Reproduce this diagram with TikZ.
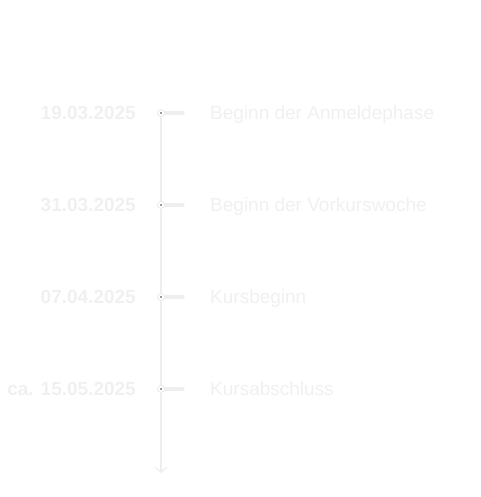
\documentclass[tikz,border=0pt]{standalone}
\usepackage{fontspec}
\setmainfont{Liberation Sans}
\usetikzlibrary{arrows.meta}
\definecolor{faint}{HTML}{F0F0F0}
\definecolor{faintline}{HTML}{EEEEEE}
\begin{document}
\begin{tikzpicture}[x=1pt,y=1pt,
  datelbl/.style={anchor=base east,inner sep=0pt,text=faint,font=\fontsize{19}{22}\selectfont\bfseries},
  eventlbl/.style={anchor=base west,inner sep=0pt,text=faint,font=\fontsize{19}{22}\selectfont},
  axisline/.style={draw=faintline,line width=2pt,-{Straight Barb[length=5pt,width=12pt,line width=1.2pt]}},
  tickline/.style={draw=faintline,line width=3.2pt,line cap=round},
  marker/.style={circle,draw=faintline,fill=white,line width=1pt,minimum size=7pt,inner sep=0pt},
  centerdot/.style={circle,fill=black!80,minimum size=1.6pt,inner sep=0pt}]
\useasboundingbox (0,0) rectangle (480,497);
\coordinate (top) at (161,384);
\coordinate (bottom) at (161,24);
\draw[axisline] (top) -- (bottom);
\foreach \i/\y/\d/\e in {1/384/19.03.2025/Beginn der Anmeldephase,
                          2/292/31.03.2025/Beginn der Vorkurswoche,
                          3/200/07.04.2025/Kursbeginn,
                          4/108/ca. 15.05.2025/Kursabschluss}{
  \coordinate (p\i) at (161,\y);
  \coordinate (t\i) at (183,\y);
  \draw[tickline] (p\i) -- (t\i);
  \node[marker] (m\i) at (p\i) {};
  \node[centerdot] (c\i) at (p\i) {};
  \node[datelbl] (d\i) at (136,\y-6.8) {\d};
  \node[eventlbl] (e\i) at (210,\y-6.8) {\e};
}
\end{tikzpicture}
\end{document}
